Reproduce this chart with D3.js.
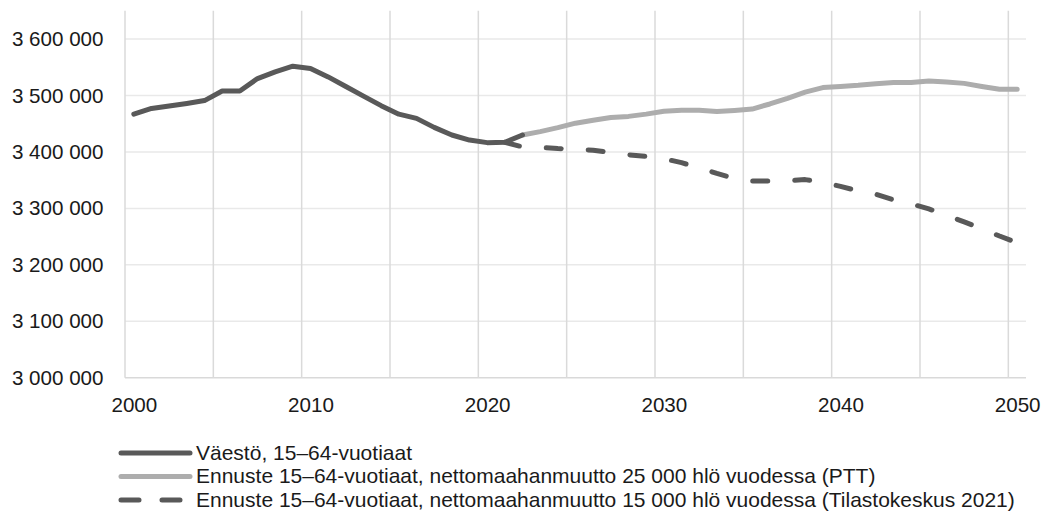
<!DOCTYPE html>
<html>
<head>
<meta charset="utf-8">
<script src="https://cdn.jsdelivr.net/npm/d3@7"></script>
<style>
  html, body { margin: 0; padding: 0; background: #fff; }
  svg { display: block; }
  text { font-family: "Liberation Sans", Arial, Helvetica, sans-serif; fill: #1a1a1a; }
</style>
</head>
<body>
<svg id="chart" width="1042" height="512"></svg>
<script>
// ---- Data ----
const years = d3.range(2000, 2051);
const historicYears = d3.range(2000, 2023);
const historicValues = [
  3467000, 3477000, 3481500, 3486000, 3491000, 3508000, 3508000, 3530000, 3542000, 3552000,
  3548000, 3533000, 3516000, 3499000, 3482000, 3467000, 3459500, 3443500, 3430000, 3421000,
  3416500, 3417000, 3430000
];
const pttYears = d3.range(2022, 2051);
const pttValues = [
  3430000, 3436000, 3443000, 3451000, 3456000, 3461000, 3463000, 3467000, 3472000, 3474000,
  3474000, 3471500, 3473500, 3476000, 3485000, 3495000, 3506000, 3514000, 3516000, 3518000,
  3521000, 3523000, 3523000, 3525500, 3524000, 3521500, 3516000, 3511000, 3511000
];
const tkYears = d3.range(2021, 2051);
const tkValues = [
  3417000, 3409000, 3408000, 3406000, 3405000, 3403000, 3399000, 3395000, 3392000, 3388000,
  3381000, 3372000, 3362000, 3353000, 3348500, 3348500, 3349000, 3351000, 3346000, 3339000,
  3331000, 3325000, 3315000, 3308000, 3299000, 3288000, 3276000, 3264000, 3251000, 3239000
];
const yTicks = [3000000, 3100000, 3200000, 3300000, 3400000, 3500000, 3600000];
const xLabelYears = [2000, 2010, 2020, 2030, 2040, 2050];
const xGridYears = [2000, 2005, 2010, 2015, 2020, 2025, 2030, 2035, 2040, 2045, 2050];
const legendLabels = [
  "Väestö, 15–64-vuotiaat",
  "Ennuste 15–64-vuotiaat, nettomaahanmuutto 25 000 hlö vuodessa (PTT)",
  "Ennuste 15–64-vuotiaat, nettomaahanmuutto 15 000 hlö vuodessa (Tilastokeskus 2021)"
];

// ---- Layout ----
const svg = d3.select("#chart");
const plotLeft = 125, plotRight = 1026, plotTop = 10.85, plotBottom = 377.7;
const x = d3.scaleBand().domain(years).range([plotLeft, plotRight]).padding(0);
const cx = yr => x(yr) + x.bandwidth() / 2;
const y = d3.scaleLinear().domain([3000000, 3650000]).range([plotBottom, plotTop]);
const fmt = d3.formatLocale({ decimal: ",", thousands: " ", grouping: [3], currency: ["", "€"] }).format(",d");

// Horizontal gridlines
svg.append("g").selectAll("line").data(yTicks).join("line")
  .attr("x1", plotLeft).attr("x2", plotRight)
  .attr("y1", d => y(d)).attr("y2", d => y(d))
  .attr("stroke", d => d === 3000000 ? "#d9d9d9" : "#e9e9e9")
  .attr("stroke-width", 1.5);

// Vertical gridlines
svg.append("g").selectAll("line").data(xGridYears).join("line")
  .attr("x1", d => x(d)).attr("x2", d => x(d))
  .attr("y1", plotTop).attr("y2", plotBottom)
  .attr("stroke", "#dadada")
  .attr("stroke-width", 1.5);

// Y axis labels
const yAxis = d3.axisLeft(y).tickValues(yTicks).tickFormat(fmt).tickSize(0).tickPadding(0);
const yg = svg.append("g").attr("transform", `translate(${plotLeft - 21.5},0)`).call(yAxis);
yg.select(".domain").remove();
yg.selectAll("text").attr("font-size", 20.6).attr("font-family", '"Liberation Sans", Arial, sans-serif').attr("fill", "#1a1a1a");

// X axis labels
const xAxis = d3.axisBottom(d3.scalePoint().domain(years).range([cx(2000), cx(2050)]))
  .tickValues(xLabelYears).tickSize(0).tickPadding(0);
const xg = svg.append("g").attr("transform", `translate(0,${plotBottom + 19.5})`).call(xAxis);
xg.select(".domain").remove();
xg.selectAll("text").attr("font-size", 20.6).attr("font-family", '"Liberation Sans", Arial, sans-serif').attr("fill", "#1a1a1a");

// Lines
const line = d3.line().x(d => cx(d[0])).y(d => y(d[1]));
const series = [
  { data: d3.zip(historicYears, historicValues), color: "#595959", dash: null },
  { data: d3.zip(pttYears, pttValues), color: "#adadad", dash: null },
  { data: d3.zip(tkYears, tkValues), color: "#595959", dash: "15,27" }
];
svg.append("g").selectAll("path").data([series[1], series[2], series[0]]).join("path")
  .attr("d", d => line(d.data))
  .attr("fill", "none")
  .attr("stroke", d => d.color)
  .attr("stroke-width", 5)
  .attr("stroke-linecap", "round")
  .attr("stroke-linejoin", "round")
  .attr("stroke-dasharray", d => d.dash);

// Legend
const legendY = [453, 476.5, 500];
const lg = svg.append("g").selectAll("g").data(series).join("g")
  .attr("transform", (d, i) => `translate(0,${legendY[i]})`);
lg.append("line")
  .attr("x1", 121).attr("x2", 190).attr("y1", 0).attr("y2", 0)
  .attr("stroke", d => d.color).attr("stroke-width", 5)
  .attr("stroke-linecap", "round")
  .attr("stroke-dasharray", d => d.dash ? "18,23" : null);
lg.append("text")
  .attr("x", 196).attr("y", 0).attr("dy", "0.33em")
  .attr("font-size", 21)
  .text((d, i) => legendLabels[i]);
</script>
</body>
</html>
